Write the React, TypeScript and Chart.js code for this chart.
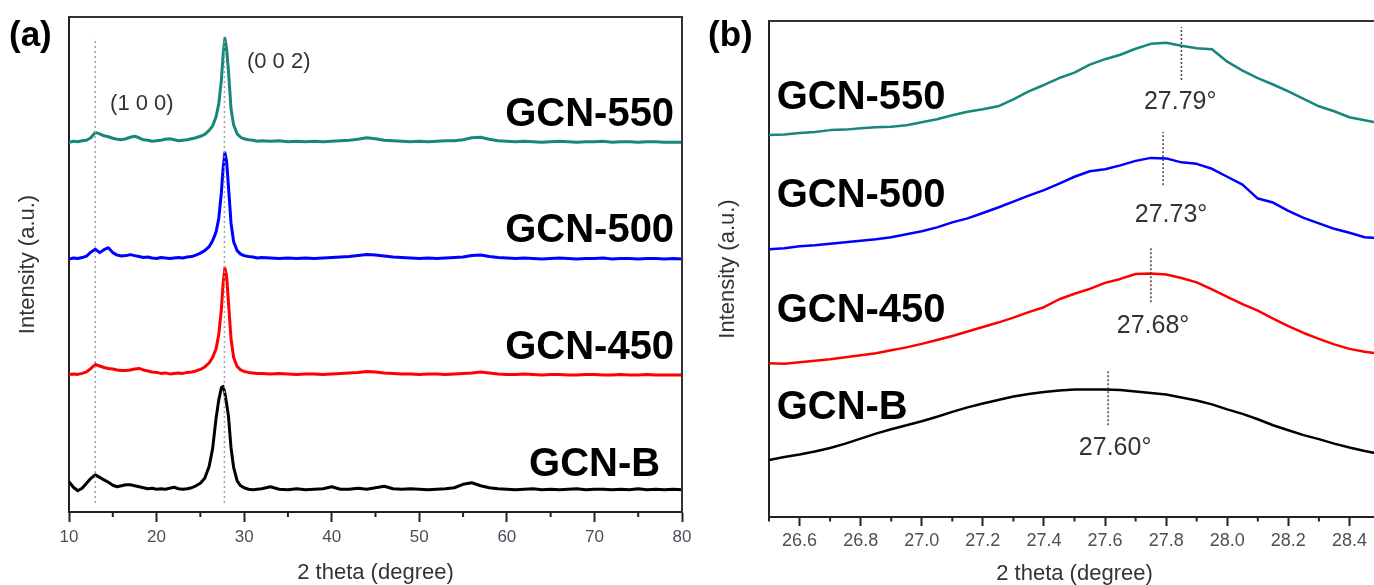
import React, { useEffect, useRef } from "react";
import { Chart, registerables } from "chart.js";

Chart.register(...registerables);

const FONT = "'Liberation Sans', Arial, Helvetica, sans-serif";

// ---------------- Panel (a): full XRD patterns ----------------
const thetaA = [
  10, 10.5, 11, 11.5, 12, 12.5, 13, 13.5, 14, 14.5,
  15, 15.5, 16, 16.5, 17, 17.5, 18, 18.5, 19, 19.5,
  20, 20.5, 21, 21.5, 22, 22.5, 23, 23.5, 24, 24.5,
  25, 25.5, 26, 26.4, 26.8, 27.1, 27.4, 27.6, 27.8, 28.0,
  28.2, 28.5, 28.8, 29.2, 29.6, 30, 30.5, 31, 31.5, 32,
  33, 34, 35, 36, 37, 38, 39, 40, 41, 42,
  43, 44, 45, 46, 47, 48, 49, 50, 51, 52,
  53, 54, 55, 56, 57, 58, 59, 60, 61, 62,
  63, 64, 65, 66, 67, 68, 69, 70, 71, 72,
  73, 74, 75, 76, 77, 78, 79, 80,
];

const gcn550A = [
  74.7, 74.9, 74.8, 75.0, 75.1, 75.6, 76.7, 76.4, 76.0, 75.8,
  75.5, 75.3, 75.2, 75.4, 75.7, 75.9, 75.6, 75.2, 75.1, 74.9,
  75.0, 75.1, 75.3, 75.4, 75.2, 75.0, 75.1, 75.2, 75.4, 75.6,
  75.9, 76.3, 77.1, 78.0, 79.9, 82.4, 87.2, 92.4, 95.7, 93.5,
  89.3, 81.5, 78.2, 76.4, 75.7, 75.4, 75.2, 75.1, 74.9, 75.0,
  74.9, 75.0, 74.8, 74.9, 74.8, 74.9, 74.8, 74.9, 75.0, 75.1,
  75.3, 75.6, 75.4, 75.1, 75.0, 74.9, 74.8, 74.9, 74.8, 74.9,
  75.0, 75.0, 75.2, 75.6, 75.7, 75.3, 75.0, 74.9, 74.8, 74.9,
  74.8, 74.7, 74.8, 74.9, 74.8, 74.7, 74.8, 74.8, 74.9, 74.7,
  74.8, 74.8, 74.7, 74.8, 74.8, 74.7, 74.7, 74.7,
];

const gcn500A = [
  51.1, 51.3, 51.2, 51.4, 51.7, 52.5, 53.1, 52.4, 53.0, 53.4,
  52.4, 51.9, 51.7, 51.8, 52.0, 51.8, 51.6, 51.4, 51.5, 51.3,
  51.2, 51.4, 51.3, 51.2, 51.3, 51.4, 51.3, 51.5, 51.6, 51.9,
  52.3, 52.8, 53.6, 54.8, 56.6, 59.3, 64.5, 69.5, 72.6, 70.8,
  66.0, 58.4, 54.6, 52.8, 52.1, 51.8, 51.6, 51.5, 51.3, 51.4,
  51.3, 51.2, 51.3, 51.2, 51.3, 51.2, 51.3, 51.4, 51.5, 51.6,
  51.8, 52.0, 51.9, 51.7, 51.5, 51.4, 51.3, 51.2, 51.3, 51.2,
  51.3, 51.4, 51.5, 51.8, 51.9, 51.6, 51.4, 51.3, 51.2, 51.3,
  51.2, 51.1, 51.2, 51.3, 51.2, 51.1, 51.2, 51.2, 51.3, 51.1,
  51.2, 51.2, 51.1, 51.2, 51.2, 51.1, 51.2, 51.1,
];

const gcn450A = [
  27.8, 27.9, 27.8, 28.0, 28.3, 29.0, 29.8, 29.5, 29.2, 29.0,
  28.9, 28.7, 28.6, 28.6, 28.7, 28.9, 29.0, 28.7, 28.5, 28.3,
  28.2, 28.0, 28.1, 27.9, 28.0, 28.1, 28.0, 28.2, 28.3, 28.5,
  28.8, 29.3, 30.1, 31.2, 33.0, 35.8, 41.0, 46.2, 49.3, 47.6,
  42.6, 35.0, 31.2, 29.4, 28.7, 28.4, 28.2, 28.1, 28.0, 28.0,
  27.9, 28.0, 27.9, 27.8, 27.9, 27.9, 27.8, 27.9, 28.0, 28.1,
  28.2, 28.4, 28.3, 28.1, 28.0, 27.9, 27.9, 27.8, 27.9, 27.9,
  27.8, 27.9, 28.0, 28.1, 28.3, 28.1, 27.9, 27.8, 27.8, 27.9,
  27.8, 27.7, 27.8, 27.8, 27.7, 27.7, 27.8, 27.8, 27.7, 27.7,
  27.8, 27.7, 27.7, 27.8, 27.7, 27.7, 27.7, 27.7,
];

const gcnBA = [
  6.1, 5.0, 4.3, 4.8, 5.8, 6.8, 7.5, 7.0, 6.5, 6.0,
  5.4, 5.1, 5.3, 5.5, 5.5, 5.3, 5.1, 4.9, 4.7, 4.8,
  4.6, 4.7, 4.6, 4.8, 5.0, 4.7, 4.6, 4.7, 4.9, 5.3,
  5.8, 6.8, 9.2, 12.8, 19.0, 22.6, 25.1, 25.4, 24.0, 21.8,
  19.5, 13.0, 9.0, 6.3, 5.3, 4.9, 4.6, 4.5, 4.6, 4.7,
  5.1, 4.6, 4.5, 4.7, 4.5, 4.6, 4.7, 5.1, 4.6, 4.6,
  4.8, 4.6, 4.9, 5.2, 4.7, 4.6, 4.7, 4.6, 4.5, 4.6,
  4.7, 4.9, 5.6, 5.9, 5.3, 4.9, 4.7, 4.6, 4.5, 4.6,
  4.7, 4.5, 4.6, 4.5, 4.6, 4.7, 4.5, 4.6, 4.6, 4.5,
  4.6, 4.5, 4.7, 4.5, 4.6, 4.5, 4.6, 4.5,
];

const majorTicksA = [10, 20, 30, 40, 50, 60, 70, 80];
const minorTicksA = [15, 25, 35, 45, 55, 65, 75];
const refLinesA = [13.0, 27.75];
const refSpanA = [1.8, 95.8];
const hklLabelsA = ["(1 0 0)", "(0 0 2)"];
const hklPosA = [
  [18.32, 82.8],
  [33.95, 91.3],
];
const namePosA = [
  [79.1, 80.8],
  [79.1, 57.4],
  [79.1, 33.9],
  [77.5, 10.1],
];

// ---------------- Panel (b): (0 0 2) peak zoom ----------------
const thetaB = [
  26.5, 26.55, 26.6, 26.65, 26.7, 26.75, 26.8, 26.85, 26.9, 26.95,
  27.0, 27.05, 27.1, 27.15, 27.2, 27.25, 27.3, 27.35, 27.4, 27.45,
  27.5, 27.55, 27.6, 27.65, 27.7, 27.75, 27.8, 27.85, 27.9, 27.95,
  28.0, 28.05, 28.1, 28.15, 28.2, 28.25, 28.3, 28.35, 28.4, 28.45,
  28.5,
];

const gcn550B = [
  77.0, 77.1, 77.4, 77.6, 78.0, 78.1, 78.4, 78.6, 78.7, 79.0,
  79.6, 80.2, 81.0, 81.7, 82.2, 82.8, 84.2, 85.8, 87.1, 88.5,
  89.6, 91.2, 92.3, 93.2, 94.4, 95.4, 95.6, 95.0, 94.5, 94.3,
  91.8, 90.0, 88.5, 87.2, 85.8, 84.3, 82.8, 81.8, 80.6, 80.0,
  79.4,
];

const gcn500B = [
  54.0, 54.2, 54.6, 54.8, 55.1, 55.4, 55.7, 56.0, 56.4, 57.0,
  57.6, 58.4, 59.4, 60.2, 61.3, 62.4, 63.6, 64.8, 65.9, 67.2,
  68.6, 69.7, 70.1, 70.9, 71.8, 72.4, 72.3, 71.5, 71.2, 70.2,
  68.6, 67.0, 64.2, 63.4, 61.7, 60.3, 59.2, 58.1, 57.3, 56.4,
  56.2,
];

const gcn450B = [
  31.0, 30.9, 31.2, 31.5, 31.8, 32.2, 32.6, 33.0, 33.6, 34.2,
  34.9, 35.7, 36.5, 37.4, 38.3, 39.2, 40.2, 41.3, 42.3, 43.9,
  45.0, 46.0, 47.2, 48.0, 49.0, 49.1, 48.9, 48.2, 47.3, 45.9,
  44.4, 42.9, 41.6, 40.0, 38.5, 37.1, 35.9, 34.8, 33.9, 33.3,
  32.9,
];

const gcnBB = [
  11.5, 12.1, 12.6, 13.2, 13.9, 14.8, 15.8, 16.8, 17.7, 18.5,
  19.3, 20.2, 21.2, 22.1, 22.9, 23.6, 24.3, 24.8, 25.2, 25.5,
  25.7, 25.7, 25.7, 25.6, 25.3, 25.0, 24.7, 24.1, 23.5, 22.7,
  21.7, 20.8, 19.7, 18.5, 17.5, 16.5, 15.7, 14.8, 14.0, 13.3,
  12.7,
];

const majorTicksB = [26.6, 26.8, 27.0, 27.2, 27.4, 27.6, 27.8, 28.0, 28.2, 28.4];
const minorTicksB = [26.5, 26.7, 26.9, 27.1, 27.3, 27.5, 27.7, 27.9, 28.1, 28.3, 28.5];
const peakThetaB = [27.85, 27.79, 27.75, 27.61];
const peakSpanB = [
  [88.1, 98.8],
  [66.9, 77.6],
  [43.3, 54.2],
  [18.5, 29.6],
];
const peakLabelsB = ["27.79°", "27.73°", "27.68°", "27.60°"];
const peakLabelPosB = [
  [27.846, 84.1],
  [27.816, 61.3],
  [27.757, 38.9],
  [27.633, 14.3],
];
const namePosB = [
  [26.525, 85.1],
  [26.525, 65.3],
  [26.525, 42.3],
  [26.525, 22.6],
];

const seriesNames = ["GCN-550", "GCN-500", "GCN-450", "GCN-B"];
const seriesColors = ["#17877b", "#0000ff", "#ff0000", "#000000"];

function capText(ctx: CanvasRenderingContext2D, str: string, x: number, y: number, size: number, bold: boolean, color: string, align: CanvasTextAlign) {
  ctx.font = `${bold ? "bold " : ""}${size}px ${FONT}`;
  ctx.fillStyle = color;
  ctx.textAlign = align;
  ctx.textBaseline = "alphabetic";
  ctx.fillText(str, x, y + 0.358 * size);
}

type PanelCfg = {
  theta: number[];
  series: number[][];
  lineWidth: number;
  refs: { x: number; y0: number; y1: number }[];
  refColor: string;
  refDash: number[];
  xMin: number;
  xMax: number;
  majors: number[];
  decimals: number;
  tickSize: number;
  tickPad: number;
  tickLen: number;
  minorLen: number;
  minors: number[];
  padTop: number;
  padRight: number;
  xAxisHeight: number;
  titlePadBottom: number;
  letter: string;
  letterX: number;
  letterY: number;
  decorate: (ctx: CanvasRenderingContext2D, x: any, y: any) => void;
};

function makePanel(canvas: HTMLCanvasElement, p: PanelCfg) {
  const datasets: any[] = [];
  p.series.forEach((vals, i) => {
    datasets.push({
      label: seriesNames[i],
      data: p.theta.map((t, k) => ({ x: t, y: vals[k] })),
      borderColor: seriesColors[i],
      borderWidth: p.lineWidth,
      borderJoinStyle: "round",
      borderCapStyle: "round",
      pointRadius: 0,
      tension: 0,
      fill: false,
      order: 2,
    });
  });
  p.refs.forEach((r) => {
    datasets.push({
      label: "ref",
      data: [
        { x: r.x, y: r.y0 },
        { x: r.x, y: r.y1 },
      ],
      borderColor: p.refColor,
      borderDash: p.refDash,
      borderWidth: 1.5,
      pointRadius: 0,
      fill: false,
      order: 1,
    });
  });

  const decor = {
    id: "decor",
    afterDraw(chart: any) {
      const { ctx, chartArea } = chart;
      const xs = chart.scales.x;
      const ys = chart.scales.y;
      ctx.save();
      ctx.strokeStyle = "#333";
      ctx.lineWidth = 2;
      ctx.beginPath();
      ctx.moveTo(chartArea.left, chartArea.top);
      ctx.lineTo(chartArea.right, chartArea.top);
      ctx.lineTo(chartArea.right, chartArea.bottom);
      ctx.stroke();
      ctx.strokeStyle = "#222";
      ctx.beginPath();
      p.minors.forEach((v) => {
        const px = xs.getPixelForValue(v);
        ctx.moveTo(px, chartArea.bottom);
        ctx.lineTo(px, chartArea.bottom + p.minorLen);
      });
      ctx.stroke();
      p.decorate(ctx, xs, ys);
      ctx.font = `bold 35px ${FONT}`;
      ctx.fillStyle = "#000";
      ctx.textAlign = "left";
      ctx.textBaseline = "middle";
      ctx.fillText(p.letter, p.letterX, p.letterY);
      ctx.restore();
    },
  };

  return new Chart(canvas, {
    type: "line",
    data: { datasets },
    options: {
      responsive: false,
      animation: false,
      events: [],
      layout: { padding: { top: p.padTop, right: p.padRight, bottom: 0, left: 0 } },
      plugins: { legend: { display: false }, tooltip: { enabled: false } },
      scales: {
        x: {
          type: "linear",
          min: p.xMin,
          max: p.xMax,
          afterBuildTicks: (s: any) => {
            s.ticks = p.majors.map((v) => ({ value: v }));
          },
          afterFit: (s: any) => {
            s.height = p.xAxisHeight;
            s.paddingLeft = 0;
            s.paddingRight = 0;
          },
          ticks: {
            autoSkip: false,
            maxRotation: 0,
            minRotation: 0,
            padding: p.tickPad,
            color: "#4b4f58",
            font: { size: p.tickSize, family: FONT },
            callback: (v: any) => Number(v).toFixed(p.decimals),
          },
          grid: {
            display: true,
            drawOnChartArea: false,
            drawTicks: true,
            tickLength: p.tickLen,
            tickWidth: 2,
            tickColor: "#222",
          },
          border: { display: true, color: "#222", width: 2 },
          title: {
            display: true,
            text: "2 theta (degree)",
            color: "#333",
            font: { size: 22, family: FONT, lineHeight: 1 },
            padding: { top: 0, bottom: p.titlePadBottom },
          },
        },
        y: {
          min: 0,
          max: 100,
          afterFit: (s: any) => {
            s.width = 69;
          },
          ticks: { display: false },
          grid: { display: false },
          border: { display: true, color: "#222", width: 2 },
          title: {
            display: true,
            text: "Intensity (a.u.)",
            color: "#333",
            font: { size: 22, family: FONT, lineHeight: 1 },
            padding: { top: 17, bottom: 0 },
          },
        },
      },
    },
    plugins: [decor],
  } as any);
}

export default function App() {
  const refA = useRef<HTMLCanvasElement | null>(null);
  const refB = useRef<HTMLCanvasElement | null>(null);

  useEffect(() => {
    const chartA = makePanel(refA.current as HTMLCanvasElement, {
      theta: thetaA,
      series: [gcn550A, gcn500A, gcn450A, gcnBA],
      lineWidth: 3,
      refs: refLinesA.map((x) => ({ x, y0: refSpanA[0], y1: refSpanA[1] })),
      refColor: "#a0a0a0",
      refDash: [2, 3],
      xMin: 10,
      xMax: 80,
      majors: majorTicksA,
      decimals: 0,
      tickSize: 17,
      tickPad: 5,
      tickLen: 10,
      minorLen: 5,
      minors: minorTicksA,
      padTop: 17,
      padRight: 18,
      xAxisHeight: 73,
      titlePadBottom: 1,
      letter: "(a)",
      letterX: 9,
      letterY: 36,
      decorate: (ctx, xs, ys) => {
        hklLabelsA.forEach((t, i) => {
          capText(ctx, t, xs.getPixelForValue(hklPosA[i][0]), ys.getPixelForValue(hklPosA[i][1]), 22, false, "#333", "center");
        });
        seriesNames.forEach((t, i) => {
          capText(ctx, t, xs.getPixelForValue(namePosA[i][0]), ys.getPixelForValue(namePosA[i][1]), 40, true, "#000", "right");
        });
      },
    });

    const chartB = makePanel(refB.current as HTMLCanvasElement, {
      theta: thetaB,
      series: [gcn550B, gcn500B, gcn450B, gcnBB],
      lineWidth: 2.5,
      refs: peakThetaB.map((x, i) => ({ x, y0: peakSpanB[i][0], y1: peakSpanB[i][1] })),
      refColor: "#444",
      refDash: [2, 2],
      xMin: 26.5,
      xMax: 28.5,
      majors: majorTicksB,
      decimals: 1,
      tickSize: 18,
      tickPad: 4,
      tickLen: 9,
      minorLen: 4.5,
      minors: minorTicksB,
      padTop: 21,
      padRight: 20,
      xAxisHeight: 68,
      titlePadBottom: 0,
      letter: "(b)",
      letterX: 8,
      letterY: 36,
      decorate: (ctx, xs, ys) => {
        peakLabelsB.forEach((t, i) => {
          capText(ctx, t, xs.getPixelForValue(peakLabelPosB[i][0]), ys.getPixelForValue(peakLabelPosB[i][1]), 25, false, "#333", "center");
        });
        seriesNames.forEach((t, i) => {
          capText(ctx, t, xs.getPixelForValue(namePosB[i][0]), ys.getPixelForValue(namePosB[i][1]), 40, true, "#000", "left");
        });
      },
    });

    return () => {
      chartA.destroy();
      chartB.destroy();
    };
  }, []);

  return (
    <div
      style={{
        position: "fixed",
        left: 0,
        top: 0,
        width: 1374,
        height: 585,
        overflow: "hidden",
        background: "#fff",
      }}
    >
      <canvas ref={refA} width={700} height={585} style={{ position: "absolute", left: 0, top: 0, width: 700, height: 585 }} />
      <canvas ref={refB} width={700} height={585} style={{ position: "absolute", left: 700, top: 0, width: 700, height: 585 }} />
    </div>
  );
}
